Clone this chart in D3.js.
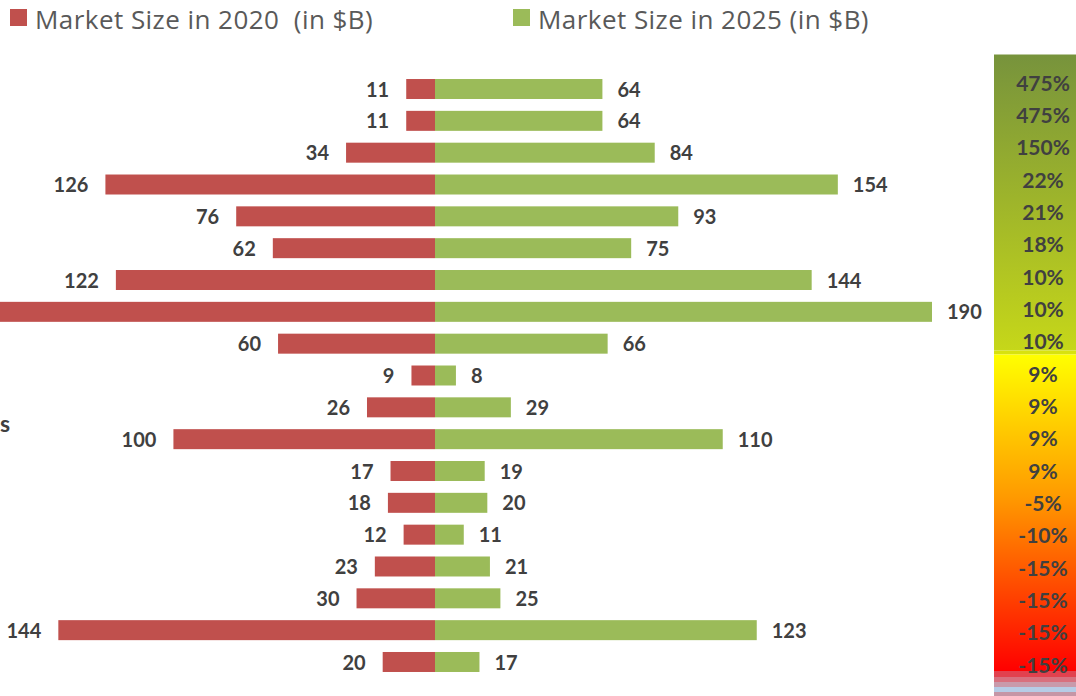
<!DOCTYPE html>
<html>
<head>
<meta charset="utf-8">
<script src="https://cdn.jsdelivr.net/npm/d3@7"></script>
<style>
  body { margin: 0; background: #fff; }
  svg { display: block; }
  .legend text { white-space: pre; }
</style>
</head>
<body>
<div id="chart"></div>
<script>
// Butterfly chart: market size 2020 (left) vs 2025 (right), growth column on the right

// Data (category names are cropped out of the original picture, rows kept in order)
var rows = ["r1", "r2", "r3", "r4", "r5", "r6", "r7", "r8", "r9", "r10",
            "r11", "r12", "r13", "r14", "r15", "r16", "r17", "r18", "r19"];
var size2020 = [11, 11, 34, 126, 76, 62, 122, 173, 60, 9, 26, 100, 17, 18, 12, 23, 30, 144, 20];
var size2025 = [64, 64, 84, 154, 93, 75, 144, 190, 66, 8, 29, 110, 19, 20, 11, 21, 25, 123, 17];
var growthLabels = ["475%", "475%", "150%", "22%", "21%", "18%", "10%", "10%", "10%", "9%",
                    "9%", "9%", "9%", "-5%", "-10%", "-15%", "-15%", "-15%", "-15%"];
var seriesNames = ["Market Size in 2020  (in $B)", "Market Size in 2025 (in $B)"];

var W = 1076, H = 696;
var red = "#C0504D", green = "#9BBB59", labelColor = "#404040";

var data = rows.map(function (r, i) {
    return { row: r, a: size2020[i], b: size2025[i] };
});

var svg = d3.select("#chart").append("svg")
    .attr("width", W)
    .attr("height", H);

// Scales
var center = 435;
var xR = d3.scaleLinear().domain([0, 190]).range([center, 932]);
var xL = d3.scaleLinear().domain([0, 190]).range([center, center - 497]);

var y = d3.scaleBand()
    .domain(rows)
    .range([73.1, 677.9])
    .paddingInner(0.372)
    .paddingOuter(0.186);

var yg = d3.scalePoint()
    .domain(d3.range(growthLabels.length))
    .range([83, 665]);

// Growth column background (gradient box)
var defs = svg.append("defs");
var gTop = defs.append("linearGradient").attr("id", "gTop")
    .attr("x1", 0).attr("y1", 0).attr("x2", 0).attr("y2", 1);
gTop.append("stop").attr("offset", "0%").attr("stop-color", "#77933C");
gTop.append("stop").attr("offset", "100%").attr("stop-color", "#C6D719");

var gBot = defs.append("linearGradient").attr("id", "gBot")
    .attr("x1", 0).attr("y1", 0).attr("x2", 0).attr("y2", 1);
gBot.append("stop").attr("offset", "0%").attr("stop-color", "#FFFF00");
gBot.append("stop").attr("offset", "45%").attr("stop-color", "#FF9A00");
gBot.append("stop").attr("offset", "100%").attr("stop-color", "#FF0000");

var boxX = 994;
svg.append("rect").attr("x", boxX).attr("y", 54.5).attr("width", W - boxX).attr("height", 296)
    .attr("fill", "url(#gTop)");
svg.append("rect").attr("x", boxX).attr("y", 350.5).attr("width", W - boxX).attr("height", 4)
    .attr("fill", "#D8E20E");
svg.append("rect").attr("x", boxX).attr("y", 354.5).attr("width", W - boxX).attr("height", 316.5)
    .attr("fill", "url(#gBot)");

// stripes at the bottom of the column
var stripes = [
    { y: 671, h: 6, c: "#E2414E" },
    { y: 677, h: 5, c: "#D8707E" },
    { y: 682, h: 5, c: "#C99AAB" },
    { y: 687, h: 5, c: "#B6CCE6" },
    { y: 692, h: 4, c: "#C696A6" }
];
svg.selectAll(".stripe").data(stripes).enter().append("rect")
    .attr("class", "stripe")
    .attr("x", boxX).attr("y", function (d) { return d.y; })
    .attr("width", W - boxX).attr("height", function (d) { return d.h; })
    .attr("fill", function (d) { return d.c; });

svg.selectAll(".growth").data(growthLabels).enter().append("text")
    .attr("class", "growth")
    .attr("x", 1043)
    .attr("y", function (d, i) { return yg(i); })
    .attr("dy", "0.36em")
    .attr("text-anchor", "middle")
    .attr("font-family", "Lato, sans-serif")
    .attr("font-weight", "bold")
    .attr("font-size", "21px")
    .attr("fill", labelColor)
    .text(function (d) { return d; });

// Bars
svg.selectAll(".barL").data(data).enter().append("rect")
    .attr("class", "barL")
    .attr("x", function (d) { return xL(d.a); })
    .attr("y", function (d) { return y(d.row); })
    .attr("width", function (d) { return center - xL(d.a); })
    .attr("height", y.bandwidth())
    .attr("fill", red);

svg.selectAll(".barR").data(data).enter().append("rect")
    .attr("class", "barR")
    .attr("x", center)
    .attr("y", function (d) { return y(d.row); })
    .attr("width", function (d) { return xR(d.b) - center; })
    .attr("height", y.bandwidth())
    .attr("fill", green);

// Data labels (the left label of the longest bar falls outside the crop, as in the original)
svg.selectAll(".labL").data(data.filter(function (d) { return xL(d.a) - 17 > 40; }))
    .enter().append("text")
    .attr("class", "labL")
    .attr("x", function (d) { return xL(d.a) - 17; })
    .attr("y", function (d) { return y(d.row) + y.bandwidth() / 2; })
    .attr("dy", "0.38em")
    .attr("text-anchor", "end")
    .attr("font-family", "Lato, sans-serif")
    .attr("font-weight", "bold")
    .attr("font-size", "20px")
    .attr("fill", labelColor)
    .text(function (d) { return d.a; });

svg.selectAll(".labR").data(data).enter().append("text")
    .attr("class", "labR")
    .attr("x", function (d) { return xR(d.b) + 15; })
    .attr("y", function (d) { return y(d.row) + y.bandwidth() / 2; })
    .attr("dy", "0.38em")
    .attr("text-anchor", "start")
    .attr("font-family", "Lato, sans-serif")
    .attr("font-weight", "bold")
    .attr("font-size", "20px")
    .attr("fill", labelColor)
    .text(function (d) { return d.b; });

// Tail of a cropped category label at the left edge
svg.append("text")
    .attr("x", 0)
    .attr("y", 432)
    .attr("font-family", "Lato, sans-serif")
    .attr("font-weight", "bold")
    .attr("font-size", "23px")
    .attr("fill", labelColor)
    .text("s");

// Legend
var legend = svg.selectAll(".legend").data(seriesNames).enter().append("g")
    .attr("class", "legend")
    .attr("transform", function (d, i) { return "translate(" + [10, 513][i] + ",0)"; });

legend.append("rect")
    .attr("x", 0).attr("y", 9)
    .attr("width", 17).attr("height", 17)
    .attr("fill", function (d, i) { return [red, green][i]; });

legend.append("text")
    .attr("x", 25)
    .attr("y", 28.5)
    .attr("font-family", "'Open Sans', sans-serif")
    .attr("font-size", "26px")
    .attr("letter-spacing", "0.45px")
    .attr("fill", "#595959")
    .text(function (d) { return d; });
</script>
</body>
</html>
